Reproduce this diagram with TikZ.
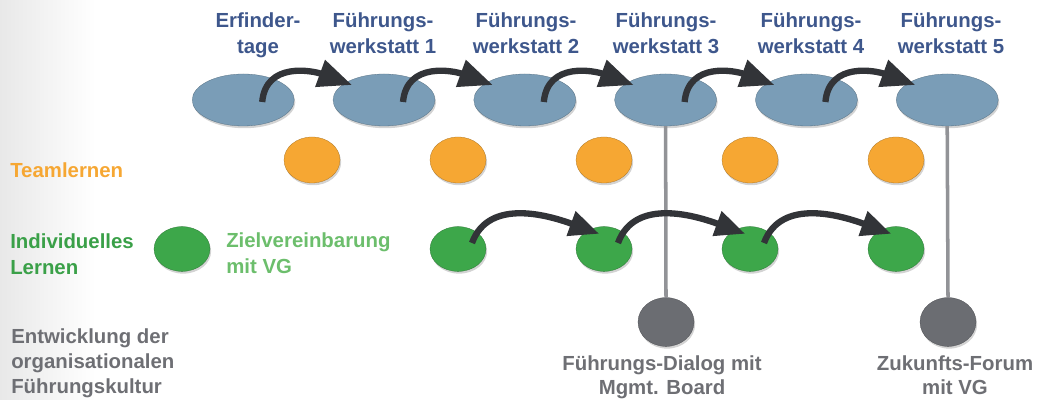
\documentclass[tikz,border=0pt]{standalone}
\usepackage{fontspec}
\setmainfont{Liberation Sans}
\usetikzlibrary{shapes.geometric}
\usetikzlibrary{shadows}
\usetikzlibrary{arrows.meta}

\definecolor{stageblue}{RGB}{122,157,183}
\definecolor{stagetext}{RGB}{62,87,140}
\definecolor{teamorange}{RGB}{246,167,51}
\definecolor{indivgreen}{RGB}{61,167,74}
\definecolor{indivtext}{RGB}{58,160,72}
\definecolor{zieltext}{RGB}{108,190,108}
\definecolor{orggray}{RGB}{107,109,114}
\definecolor{orgtext}{RGB}{110,111,116}
\definecolor{arrowdark}{RGB}{50,52,56}
\definecolor{linegray}{RGB}{146,147,151}

\begin{document}
\begin{tikzpicture}[
  blob/.style={ellipse,inner sep=0pt,draw=#1!70!black,very thin,fill=#1,drop shadow={shadow xshift=0.8pt,shadow yshift=-1.6pt,opacity=0.35}},
  stage/.style={blob=stageblue,minimum width=2.55cm,minimum height=1.3cm},
  team/.style={blob=teamorange,minimum width=1.4cm,minimum height=1.15cm},
  indiv/.style={blob=indivgreen,minimum width=1.4cm,minimum height=1.12cm},
  org/.style={blob=orggray,minimum width=1.4cm,minimum height=1.22cm},
  txt/.style={font=\fontsize{14.5}{19}\selectfont\bfseries,inner sep=0pt},
  flow/.style={line width=4.5pt,draw=arrowdark,-{Triangle[length=0.85cm,width=0.68cm]}},
  vline/.style={line width=2.5pt,draw=linegray}
]
\useasboundingbox (0,0) rectangle (26.075,10);
\shade[left color=black!9, right color=white] (0,0) rectangle (2.4,10);

% Werkstaetten
\node[stage] (b1) at (6.08,7.5) {};
\node[stage] (b2) at (9.6,7.5) {};
\node[stage] (b3) at (13.12,7.5) {};
\node[stage] (b4) at (16.64,7.5) {};
\node[stage] (b5) at (20.16,7.5) {};
\node[stage] (b6) at (23.68,7.5) {};

\node[txt,text=stagetext,align=center,anchor=north] (s1) at (6.45,9.7) {Erfinder-\\tage};
\node[txt,text=stagetext,align=center,anchor=north] (s2) at (9.575,9.7) {Führungs-\\werkstatt 1};
\node[txt,text=stagetext,align=center,anchor=north] (s3) at (13.15,9.7) {Führungs-\\werkstatt 2};
\node[txt,text=stagetext,align=center,anchor=north] (s4) at (16.65,9.7) {Führungs-\\werkstatt 3};
\node[txt,text=stagetext,align=center,anchor=north] (s5) at (20.275,9.7) {Führungs-\\werkstatt 4};
\node[txt,text=stagetext,align=center,anchor=north] (s6) at (23.775,9.7) {Führungs-\\werkstatt 5};

% Teamlernen
\node[team] (t1) at (7.8,6) {};
\node[team] (t2) at (11.45,6) {};
\node[team] (t3) at (15.1,6) {};
\node[team] (t4) at (18.75,6) {};
\node[team] (t5) at (22.4,6) {};
\node[txt,text=teamorange,anchor=north west] (tl) at (0.25,5.95) {Teamlernen};

% Individuelles Lernen
\node[indiv] (g0) at (4.55,3.775) {};
\node[indiv] (g1) at (11.45,3.775) {};
\node[indiv] (g2) at (15.1,3.775) {};
\node[indiv] (g3) at (18.75,3.775) {};
\node[indiv] (g4) at (22.4,3.775) {};
\node[txt,text=indivtext,align=left,anchor=north west] (il) at (0.25,4.175) {Individuelles\\Lernen};
\node[txt,text=zieltext,align=left,anchor=north west] (zv) at (5.65,4.2) {Zielvereinbarung\\mit VG};

% Fuehrungskultur
\node[org] (d1) at (16.65,1.95) {};
\node[org] (d2) at (23.7,1.95) {};
\node[txt,font=\fontsize{14.5}{17.8}\selectfont\bfseries,text=orgtext,align=left,anchor=north west] (ol) at (0.275,1.8) {Entwicklung der\\organisationalen\\Führungskultur};
\node[txt,font=\fontsize{14.5}{17.4}\selectfont\bfseries,text=orgtext,align=center,anchor=north] (dl1) at (16.55,1.12) {Führungs-Dialog mit\\Mgmt. Board};
\node[txt,font=\fontsize{14.5}{17.4}\selectfont\bfseries,text=orgtext,align=center,anchor=north] (dl2) at (23.875,1.12) {Zukunfts-Forum\\mit VG};

\draw[vline] (b4.south) -- (d1.north);
\draw[vline] (b6.south) -- (d2.north);

\draw[flow] ([xshift=0.475cm,yshift=-0.05cm]b1.center) to[out=85,in=160,looseness=1.15] ([xshift=-0.8cm,yshift=0.375cm]b2.center);
\draw[flow] ([xshift=0.475cm,yshift=-0.05cm]b2.center) to[out=85,in=160,looseness=1.15] ([xshift=-0.8cm,yshift=0.375cm]b3.center);
\draw[flow] ([xshift=0.475cm,yshift=-0.05cm]b3.center) to[out=85,in=160,looseness=1.15] ([xshift=-0.8cm,yshift=0.375cm]b4.center);
\draw[flow] ([xshift=0.475cm,yshift=-0.05cm]b4.center) to[out=85,in=160,looseness=1.15] ([xshift=-0.8cm,yshift=0.375cm]b5.center);
\draw[flow] ([xshift=0.475cm,yshift=-0.05cm]b5.center) to[out=85,in=160,looseness=1.15] ([xshift=-0.8cm,yshift=0.375cm]b6.center);

\draw[flow,-{Triangle[length=0.75cm,width=0.62cm]}] ([xshift=0.35cm,yshift=0.15cm]g1.center) to[out=70,in=160] ([xshift=-0.12cm,yshift=0.38cm]g2.center);
\draw[flow,-{Triangle[length=0.75cm,width=0.62cm]}] ([xshift=0.35cm,yshift=0.15cm]g2.center) to[out=70,in=160] ([xshift=-0.12cm,yshift=0.38cm]g3.center);
\draw[flow,-{Triangle[length=0.75cm,width=0.62cm]}] ([xshift=0.35cm,yshift=0.15cm]g3.center) to[out=70,in=160] ([xshift=-0.12cm,yshift=0.38cm]g4.center);

\end{tikzpicture}
\end{document}
